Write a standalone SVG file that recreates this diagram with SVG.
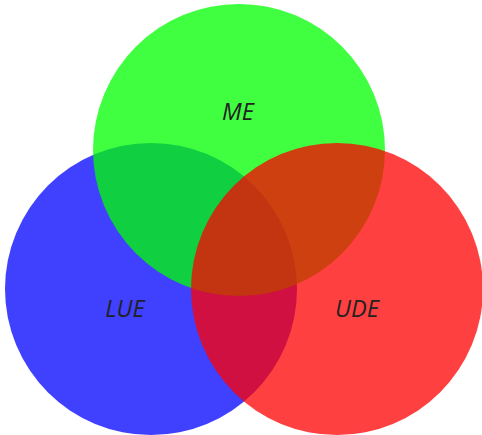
<svg xmlns="http://www.w3.org/2000/svg" width="482" height="435" viewBox="0 0 482 435">
<style>
.c{fill-opacity:0.75;stroke:none}
.t{font-family:"Open Sans","DejaVu Sans",sans-serif;font-style:italic;font-size:23.5px;fill:#222;text-anchor:middle}
</style>
<rect width="482" height="435" fill="#fff"/>
<g id="lue"><circle class="c" cx="151" cy="289" r="146" fill="#0000ff"/></g>
<g id="me"><circle class="c" cx="239" cy="150" r="146" fill="#00ff00"/></g>
<g id="ude"><circle class="c" cx="337" cy="289" r="146" fill="#ff0000"/></g>
<g id="labels">
<text class="t" x="238" y="120">ME</text>
<text class="t" x="125" y="317">LUE</text>
<text class="t" x="357" y="317">UDE</text>
</g>
<g id="connectors"></g>
</svg>
